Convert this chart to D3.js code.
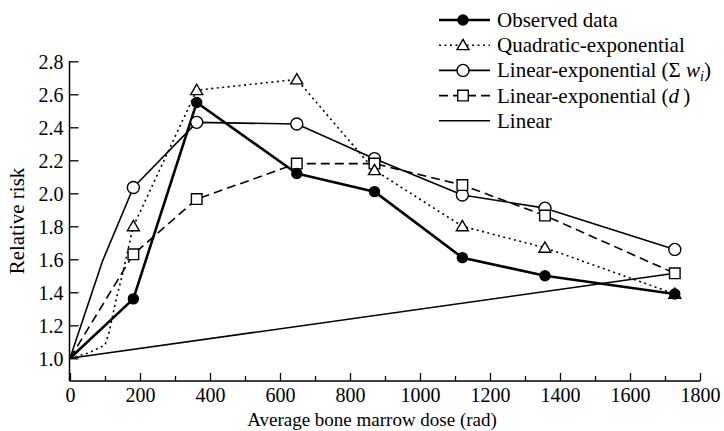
<!DOCTYPE html>
<html><head><meta charset="utf-8">
<script src="https://cdn.jsdelivr.net/npm/d3@7"></script>
<style>
html,body{margin:0;padding:0;background:#fff;}
svg{display:block;font-family:"Liberation Serif","Times New Roman",serif;}
</style></head>
<body>
<svg id="chart" width="724" height="431"></svg>
<script>
// ---- data ----
const doses = [0, 181, 362, 648, 870, 1121, 1357, 1728];
const observed = [1.0, 1.36, 2.55, 2.12, 2.01, 1.61, 1.50, 1.39];
const quadExp = [1.0, 1.80, 2.625, 2.69, 2.14, 1.80, 1.67, 1.39];
const linExpW = [1.0, 2.035, 2.43, 2.42, 2.21, 1.99, 1.91, 1.66];
const linExpD = [1.0, 1.63, 1.965, 2.18, 2.18, 2.05, 1.865, 1.515];
const linearDoses = [0, 1728];
const linearRisk = [1.0, 1.515];
// extra model-curve points near the origin (no markers)
const quadExpCurveDoses = [50, 100, 112, 130, 150];
const quadExpCurveRisk = [1.03, 1.08, 1.16, 1.34, 1.51];
const linExpWCurveDoses = [93];
const linExpWCurveRisk = [1.59];
const xTicks = [0, 200, 400, 600, 800, 1000, 1200, 1400, 1600, 1800];
const xMinorTicks = [100, 300, 500, 700, 900, 1100, 1300, 1500, 1700];
const yTicks = [1.0, 1.2, 1.4, 1.6, 1.8, 2.0, 2.2, 2.4, 2.6, 2.8];
const legendLabels = ["Observed data", "Quadratic-exponential", "Linear-exponential (Σ w_i)", "Linear-exponential (d)", "Linear"];

const svg = d3.select("#chart");
const x = d3.scaleLinear().domain([0, 1800]).range([70, 700]);
const y = d3.scaleLinear().domain([0.8624, 2.8]).range([381, 61.3]);

// axes
const xAxisG = svg.append("g").attr("transform", "translate(0,381)")
  .call(d3.axisBottom(x).tickValues(xTicks).tickSize(-8).tickPadding(4).tickFormat(d3.format("d")));
const xMinorG = svg.append("g").attr("transform", "translate(0,381)")
  .call(d3.axisBottom(x).tickValues(xMinorTicks).tickSize(-5).tickFormat(""));
xMinorG.select(".domain").remove();
const yAxisG = svg.append("g").attr("transform", "translate(69.5,0)")
  .call(d3.axisLeft(y).tickValues(yTicks).tickSize(-9).tickPadding(6).tickFormat(d3.format(".1f")));
[xAxisG, xMinorG, yAxisG].forEach(g => {
  g.selectAll("path.domain").attr("stroke", "#000").attr("stroke-width", 1.5);
  g.selectAll(".tick line").attr("stroke", "#000").attr("stroke-width", 1.3);
  g.selectAll("text").attr("fill", "#000").style("font-size", "20px")
    .style("font-family", "Liberation Serif, Times New Roman, serif");
});
xAxisG.select(".domain").attr("d", "M69.5,0H700");
yAxisG.select(".domain").attr("d", "M0,381V61.3");
xAxisG.selectAll("text").attr("dy", "0.85em");
yAxisG.selectAll("text").attr("dy", "0.34em");

// axis titles
svg.append("text").attr("x", 372).attr("y", 426).attr("text-anchor", "middle")
  .style("font-size", "19px").text("Average bone marrow dose (rad)");
svg.append("text").attr("transform", "translate(24,221) rotate(-90)").attr("text-anchor", "middle")
  .style("font-size", "21px").text("Relative risk");

const line = d3.line().x(d => x(d[0])).y(d => y(d[1]));
function merge(d1, r1, d2, r2) {
  const pts = d1.map((d, i) => [d, r1[i]]).concat(d2.map((d, i) => [d, r2[i]]));
  return pts.sort((a, b) => a[0] - b[0]);
}

const styles = {
  obs: {w: 2.6, dash: null},
  quad: {w: 1.6, dash: "2,3.5"},
  linw: {w: 1.6, dash: null},
  lind: {w: 1.6, dash: "9,5"},
  lin: {w: 1.6, dash: null}
};

function drawLine(pts, st) {
  svg.append("path").datum(pts).attr("d", line).attr("fill", "none")
    .attr("stroke", "#000").attr("stroke-width", st.w)
    .attr("stroke-dasharray", st.dash).attr("stroke-linejoin", "round");
}

const sym = {
  circle: d3.symbol().type(d3.symbolCircle).size(Math.PI * 6 * 6),
  dot: d3.symbol().type(d3.symbolCircle).size(Math.PI * 5 * 5),
  tri: d3.symbol().type(d3.symbolTriangle).size(62),
  sq: d3.symbol().type(d3.symbolSquare).size(112)
};
function drawMarkers(xs, ys, kind) {
  const pts = xs.map((d, i) => [d, ys[i]]).filter(p => p[0] > 0);
  svg.append("g").selectAll("path").data(pts).join("path")
    .attr("transform", d => `translate(${x(d[0])},${y(d[1]) + (kind === "tri" ? 1 : 0)})`)
    .attr("d", sym[kind])
    .attr("fill", kind === "dot" ? "#000" : "#fff")
    .attr("stroke", "#000").attr("stroke-width", 1.4);
}

// linear
drawLine(linearDoses.map((d, i) => [d, linearRisk[i]]), styles.lin);
// linear-exponential (sum w)
drawLine(merge(doses, linExpW, linExpWCurveDoses, linExpWCurveRisk), styles.linw);
// linear-exponential (d)
drawLine(doses.map((d, i) => [d, linExpD[i]]), styles.lind);
// quadratic-exponential
drawLine(merge(doses, quadExp, quadExpCurveDoses, quadExpCurveRisk), styles.quad);
// observed
drawLine(doses.map((d, i) => [d, observed[i]]), styles.obs);

drawMarkers(doses, linExpW, "circle");
drawMarkers(doses, linExpD, "sq");
drawMarkers(doses, quadExp, "tri");
drawMarkers(doses, observed, "dot");

// legend
const legendRows = [
  {st: styles.obs, m: "dot"},
  {st: styles.quad, m: "tri"},
  {st: styles.linw, m: "circle"},
  {st: styles.lind, m: "sq"},
  {st: styles.lin, m: null}
];
legendRows.forEach((r, i) => {
  const yy = 20 + i * 25.2;
  svg.append("line").attr("x1", 439).attr("x2", 490).attr("y1", yy).attr("y2", yy)
    .attr("stroke", "#000").attr("stroke-width", r.st.w).attr("stroke-dasharray", r.st.dash);
  if (r.m) {
    svg.append("path").attr("transform", `translate(463,${yy + (r.m === "tri" ? 1 : 0)})`)
      .attr("d", sym[r.m]).attr("fill", r.m === "dot" ? "#000" : "#fff")
      .attr("stroke", "#000").attr("stroke-width", 1.4);
  }
  const t = svg.append("text").attr("x", 497).attr("y", yy + 7).style("font-size", "21px");
  const lab = legendLabels[i];
  if (lab.includes("w_i")) {
    t.append("tspan").text("Linear-exponential (Σ ");
    t.append("tspan").style("font-style", "italic").text("w");
    t.append("tspan").style("font-style", "italic").style("font-size", "14px").attr("dy", 4).text("i");
    t.append("tspan").attr("dy", -4).text(")");
  } else if (lab.endsWith("(d)")) {
    t.append("tspan").text("Linear-exponential (");
    t.append("tspan").style("font-style", "italic").text("d");
    t.append("tspan").text("\u2009)");
  } else {
    t.text(lab);
  }
});
</script>
</body></html>
